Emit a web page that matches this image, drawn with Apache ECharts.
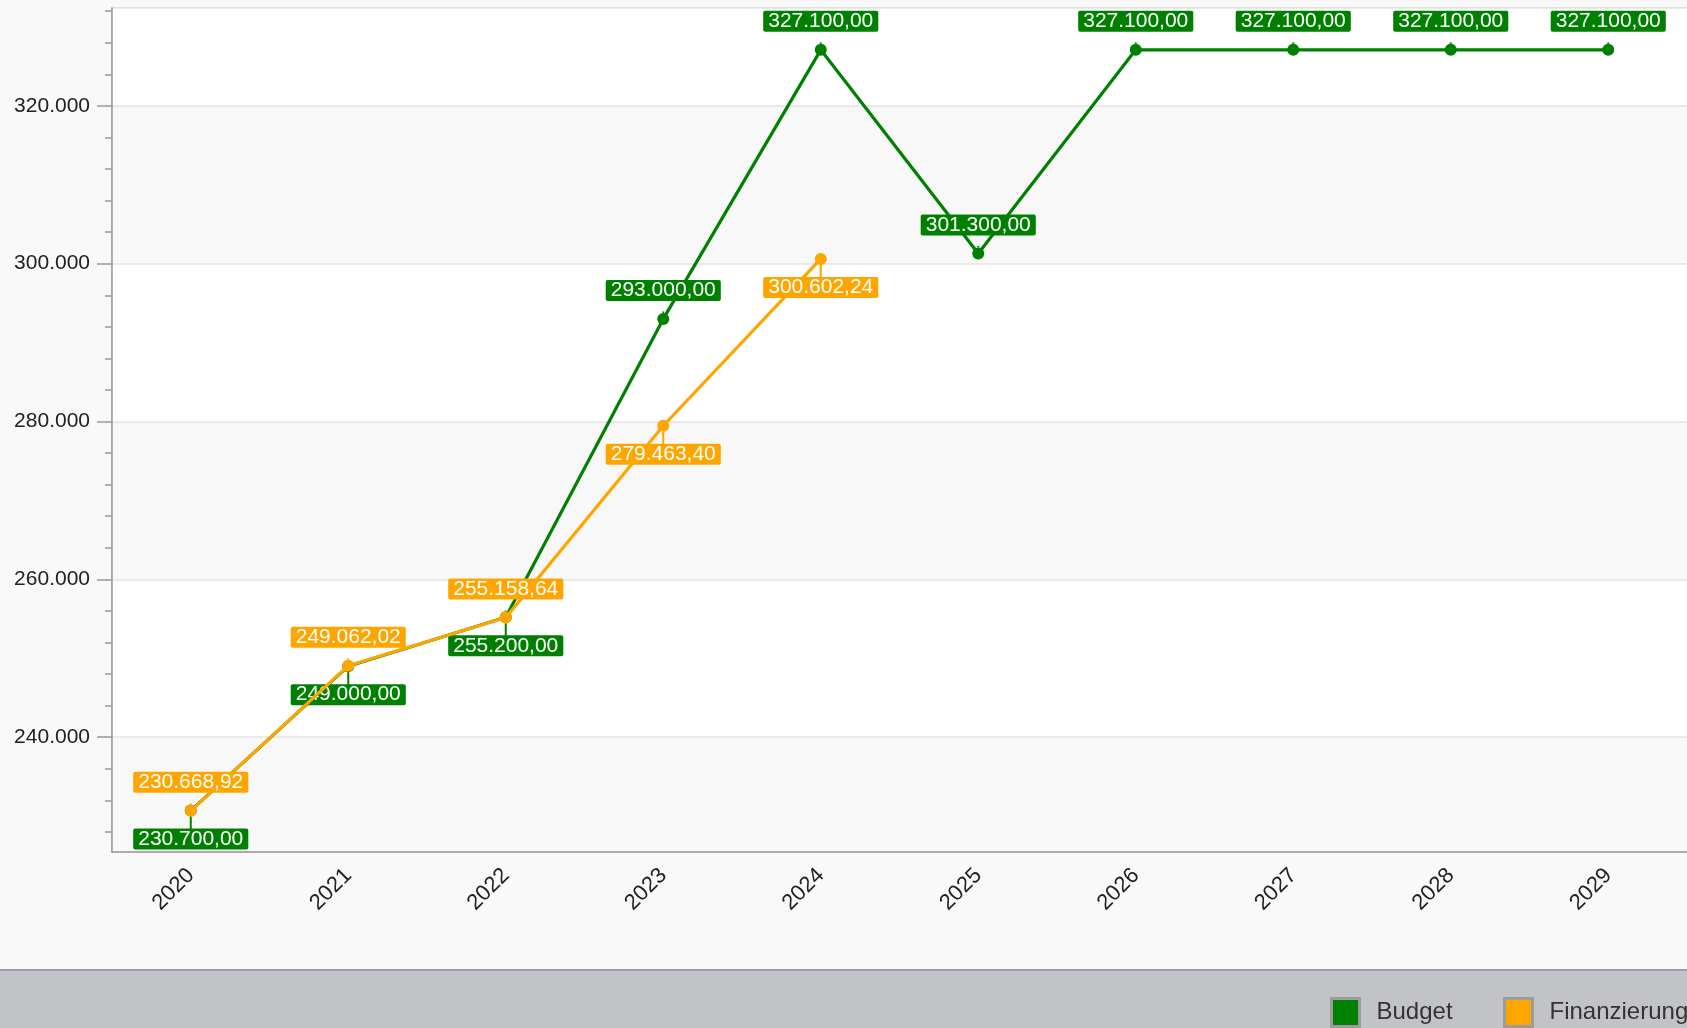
<!DOCTYPE html>
<html>
<head>
<meta charset="utf-8">
<script src="https://cdn.jsdelivr.net/npm/echarts@6/dist/echarts.min.js"></script>
<style>
html,body{margin:0;padding:0;background:#f9f9f9;}
#chart{width:1687px;height:1028px;}
</style>
</head>
<body>
<div id="chart"></div>
<script>
const years = ['2020','2021','2022','2023','2024','2025','2026','2027','2028','2029'];
const budget = [230700, 249000, 255200, 293000, 327100, 301300, 327100, 327100, 327100, 327100];
const finanzierung = [230668.92, 249062.02, 255158.64, 279463.40, 300602.24];
const yTickValues = [240000, 260000, 280000, 300000, 320000];
const seriesNames = ['Budget', 'Finanzierung'];

const GREEN = '#008000';
const ORANGE = '#FFA500';
const FONT = 'Liberation Sans, Arial, sans-serif';

function groupDE(intStr) {
  return intStr.replace(/\B(?=(\d{3})+(?!\d))/g, '.');
}
function fmtDE2(v) {
  const s = Math.abs(v).toFixed(2).split('.');
  return (v < 0 ? '-' : '') + groupDE(s[0]) + ',' + s[1];
}
function fmtDE0(v) {
  return groupDE(String(Math.round(v)));
}

// label placement (style): first three budget labels sit below, orange opposite
const budgetBelow = new Set([0, 1, 2]);

function labelCfg(color, pos) {
  return {
    show: true,
    position: pos,
    distance: 12,
    color: '#fff',
    backgroundColor: color,
    fontFamily: FONT,
    fontSize: 21,
    lineHeight: 21,
    padding: [0, 5, 0, 5],
    borderRadius: 2,
    formatter: p => fmtDE2(p.value)
  };
}

const budgetData = budget.map((v, i) => ({
  value: v,
  label: labelCfg(GREEN, budgetBelow.has(i) ? 'bottom' : 'top')
}));
const finData = finanzierung.map((v, i) => ({
  value: v,
  label: labelCfg(ORANGE, budgetBelow.has(i) ? 'top' : 'bottom')
}));

const yMin = 225450, yMax = 332400;

const legendCommon = {
  top: 992,
  icon: 'rect',
  itemWidth: 28,
  itemHeight: 28,
  textStyle: {fontSize: 24, color: '#333', fontFamily: FONT, padding: [0, 0, 0, 12]},
  itemStyle: {borderColor: '#9c9c9c', borderWidth: 3},
  selectedMode: false
};

const chart = echarts.init(document.getElementById('chart'), null, {renderer: 'canvas'});
chart.setOption({
  backgroundColor: '#f9f9f9',
  animation: false,
  textStyle: {fontFamily: FONT},
  graphic: [
    {type: 'rect', left: 0, top: 970, shape: {width: 1687, height: 58}, style: {fill: '#c2c3c7'}, z: -1},
    {type: 'rect', left: 0, top: 969, shape: {width: 1687, height: 2}, style: {fill: '#9b9ea2'}, z: -1}
  ],
  legend: [
    Object.assign({data: [seriesNames[0]], left: 1325}, legendCommon),
    Object.assign({data: [seriesNames[1]], left: 1498, width: 400}, legendCommon)
  ],
  grid: {
    left: 112, top: 8, right: -6, bottom: 176,
    show: true, backgroundColor: '#fff', borderColor: '#cccccc', borderWidth: 1.5
  },
  xAxis: {
    type: 'category',
    data: years,
    boundaryGap: true,
    axisLine: {lineStyle: {color: '#999', width: 1.5}},
    axisTick: {alignWithLabel: true, length: 16, lineStyle: {color: '#999', width: 1.5}},
    axisLabel: {rotate: 45, margin: 20, fontSize: 22, color: '#222', fontFamily: FONT},
    splitLine: {show: false}
  },
  yAxis: [
    {
      type: 'value',
      min: yMin, max: yMax,
      axisLine: {show: true, lineStyle: {color: '#999', width: 1.5}},
      axisTick: {show: false},
      minorTick: {show: true, splitNumber: 5, length: 7, lineStyle: {color: '#999', width: 1.5}},
      axisLabel: {show: false},
      splitLine: {show: true, lineStyle: {color: '#e3e3e3', width: 1.5}},
      splitArea: {show: true, areaStyle: {color: ['#f8f8f8', '#ffffff']}}
    },
    {
      type: 'value',
      min: yMin, max: yMax,
      position: 'left',
      axisLine: {show: false},
      axisTick: {show: true, customValues: yTickValues, length: 15, lineStyle: {color: '#999', width: 1.5}},
      axisLabel: {show: true, customValues: yTickValues, margin: 22, fontSize: 21, color: '#222', fontFamily: FONT,
                  formatter: v => fmtDE0(v)},
      splitLine: {show: false},
      splitArea: {show: false}
    }
  ],
  series: [
    {
      name: seriesNames[0],
      type: 'line',
      yAxisIndex: 0,
      data: budgetData,
      color: GREEN,
      symbol: 'circle',
      symbolSize: 12,
      lineStyle: {width: 3.2, color: GREEN},
      itemStyle: {color: GREEN},
      labelLine: {show: true, lineStyle: {width: 2, color: GREEN}},
      z: 3
    },
    {
      name: seriesNames[1],
      type: 'line',
      yAxisIndex: 0,
      data: finData,
      color: ORANGE,
      symbol: 'circle',
      symbolSize: 12,
      lineStyle: {width: 3.2, color: ORANGE},
      itemStyle: {color: ORANGE},
      labelLine: {show: true, lineStyle: {width: 2, color: ORANGE}},
      z: 4
    }
  ]
});
</script>
</body>
</html>
